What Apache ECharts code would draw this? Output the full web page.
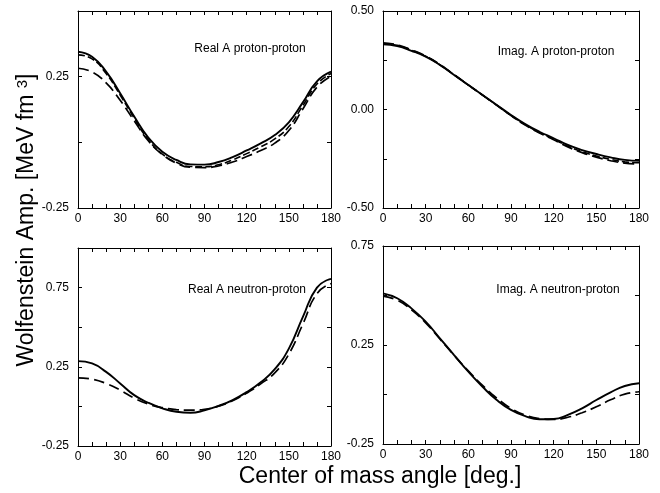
<!DOCTYPE html>
<html>
<head>
<meta charset="utf-8">
<script src="https://cdn.jsdelivr.net/npm/echarts@6/dist/echarts.min.js"></script>
<style>
html,body{margin:0;padding:0;background:#fff;}
#chart{width:660px;height:493px;}
</style>
</head>
<body>
<div id="chart"></div>
<script>
// ---- data ----
const angles = [0,10,20,30,40,50,60,70,80,90,100,110,120,130,140,150,160,170,180];

const tlSolid = [0.345,0.326,0.269,0.187,0.098,0.018,-0.036,-0.067,-0.084,-0.085,-0.075,-0.056,-0.031,-0.004,0.028,0.076,0.152,0.232,0.269];
const tlDash  = [0.333,0.318,0.262,0.180,0.092,0.010,-0.045,-0.076,-0.092,-0.093,-0.085,-0.067,-0.043,-0.017,0.013,0.060,0.140,0.222,0.262];
const tlLong  = [0.282,0.268,0.226,0.160,0.082,0.006,-0.046,-0.079,-0.095,-0.096,-0.090,-0.075,-0.054,-0.031,-0.003,0.045,0.127,0.210,0.252];

const trSolid = [0.331,0.322,0.298,0.268,0.226,0.175,0.124,0.074,0.023,-0.028,-0.074,-0.113,-0.146,-0.180,-0.206,-0.226,-0.243,-0.256,-0.261];
const trDash  = [0.335,0.326,0.301,0.270,0.227,0.176,0.124,0.073,0.022,-0.030,-0.077,-0.117,-0.151,-0.186,-0.214,-0.236,-0.253,-0.266,-0.270];
const trLong  = [0.338,0.328,0.303,0.272,0.229,0.177,0.125,0.073,0.021,-0.031,-0.079,-0.119,-0.154,-0.190,-0.219,-0.242,-0.260,-0.272,-0.277];

const blSolid = [0.286,0.271,0.218,0.145,0.071,0.023,-0.012,-0.034,-0.040,-0.025,0.003,0.040,0.090,0.152,0.235,0.365,0.565,0.750,0.805];
const blDash  = [0.180,0.172,0.145,0.103,0.052,0.015,-0.008,-0.020,-0.024,-0.018,0.002,0.036,0.084,0.142,0.212,0.330,0.520,0.712,0.775];

const brSolid = [0.511,0.486,0.435,0.368,0.284,0.199,0.115,0.039,-0.028,-0.078,-0.109,-0.125,-0.124,-0.103,-0.070,-0.028,0.011,0.043,0.057];
const brDash  = [0.497,0.476,0.428,0.362,0.280,0.198,0.119,0.046,-0.018,-0.070,-0.104,-0.122,-0.126,-0.115,-0.092,-0.062,-0.027,0.002,0.014];

const xTickLabels = ['0','30','60','90','120','150','180'];
const tlYLabels = ['-0.25','0.25'];
const trYLabels = ['-0.50','0.00','0.50'];
const blYLabels = ['-0.25','0.25','0.75'];
const brYLabels = ['-0.25','0.25','0.75'];

const panelTitles = ['Real A proton-proton','Imag. A proton-proton','Real A neutron-proton','Imag. A neutron-proton'];
const xTitle = 'Center of mass angle [deg.]';
const yTitleMain = 'Wolfenstein Amp. [MeV fm ';
const yTitleSup = '3';
const yTitleEnd = ']';

// ---- build ----
const FONT = "'Liberation Sans', Arial, Helvetica, sans-serif";
const grids = [
  {left:78, top:11, width:253, height:197},
  {left:383, top:11, width:256, height:197},
  {left:78, top:248, width:253, height:198},
  {left:383, top:246, width:256, height:198}
];
const yRanges = [[-0.25,0.5],[-0.5,0.5],[-0.25,1.0],[-0.25,0.75]];
const yLabelSets = [tlYLabels,trYLabels,blYLabels,brYLabels];

const xAxes = [], yAxes = [];
grids.forEach((g,i)=>{
  const common = {type:'value', gridIndex:i, min:0, max:180, interval:10,
    splitLine:{show:false},
    axisLine:{show:true, onZero:false, lineStyle:{color:'#000', width:1}},
    axisTick:{show:true, inside:true, length:4, lineStyle:{color:'#000', width:1}}};
  xAxes.push(Object.assign({}, common, {position:'bottom',
    axisLabel:{show:true, margin:5, fontSize:12, color:'#000', fontFamily:FONT,
      formatter:v=>{const s=String(Math.round(v)); return xTickLabels.indexOf(s)>=0 ? s : '';}}}));
  xAxes.push(Object.assign({}, common, {position:'top', axisLabel:{show:false}}));
  const labels = yLabelSets[i];
  const ycommon = {type:'value', gridIndex:i, min:yRanges[i][0], max:yRanges[i][1], interval:0.25,
    splitLine:{show:false},
    axisLine:{show:true, onZero:false, lineStyle:{color:'#000', width:1}},
    axisTick:{show:true, inside:true, length:4, lineStyle:{color:'#000', width:1}}};
  yAxes.push(Object.assign({}, ycommon, {position:'left',
    axisLabel:{show:true, margin:9, fontSize:12, color:'#000', fontFamily:FONT,
      showMinLabel:true, showMaxLabel:true,
      formatter:v=>{const s=v.toFixed(2); return labels.indexOf(s)>=0 ? s : '';}}}));
  yAxes.push(Object.assign({}, ycommon, {position:'right', axisLabel:{show:false}}));
});

function pairs(arr){ return angles.map((a,k)=>[a,arr[k]]); }
const styles = {
  solid:{type:'solid', width:1.9},
  dash:{type:[7,3], width:1.6},
  long:{type:[11,5], width:1.7}
};
function mk(panel, arr, st){
  return {type:'line', xAxisIndex:panel*2, yAxisIndex:panel*2, data:pairs(arr),
    smooth:0.5, showSymbol:false, symbol:'none', silent:true, animation:false,
    lineStyle:Object.assign({color:'#000'}, styles[st])};
}
const series = [
  mk(0,tlSolid,'solid'), mk(0,tlDash,'dash'), mk(0,tlLong,'long'),
  mk(1,trSolid,'solid'), mk(1,trDash,'dash'), mk(1,trLong,'long'),
  mk(2,blSolid,'solid'), mk(2,blDash,'long'),
  mk(3,brSolid,'solid'), mk(3,brDash,'long')
];

const titlePos = [[250,49],[556,52],[247,290],[558,290]];
const graphic = panelTitles.map((t,i)=>({type:'text', x:titlePos[i][0], y:titlePos[i][1],
  style:{text:t, fontSize:12, fontFamily:FONT, fill:'#000', align:'center', verticalAlign:'middle'}}));
graphic.push({type:'text', x:380, y:477, style:{text:xTitle, fontSize:23, fontFamily:FONT, fill:'#000', align:'center', verticalAlign:'middle'}});
graphic.push({type:'text', x:27, y:220, rotation:Math.PI/2,
  style:{text:'{a|'+yTitleMain+'}{s|'+yTitleSup+'}{a|'+yTitleEnd+'}', fontFamily:FONT, fill:'#000', align:'center', verticalAlign:'middle',
    rich:{a:{fontSize:23, fontFamily:FONT, fill:'#000'}, s:{fontSize:15, fontFamily:FONT, fill:'#000', verticalAlign:'top'}}}});

const chart = echarts.init(document.getElementById('chart'), null, {renderer:'canvas'});
chart.setOption({
  animation:false,
  backgroundColor:'#fff',
  grid:grids.map(g=>Object.assign({containLabel:false}, g)),
  xAxis:xAxes, yAxis:yAxes, series:series, graphic:graphic
});
</script>
</body>
</html>
